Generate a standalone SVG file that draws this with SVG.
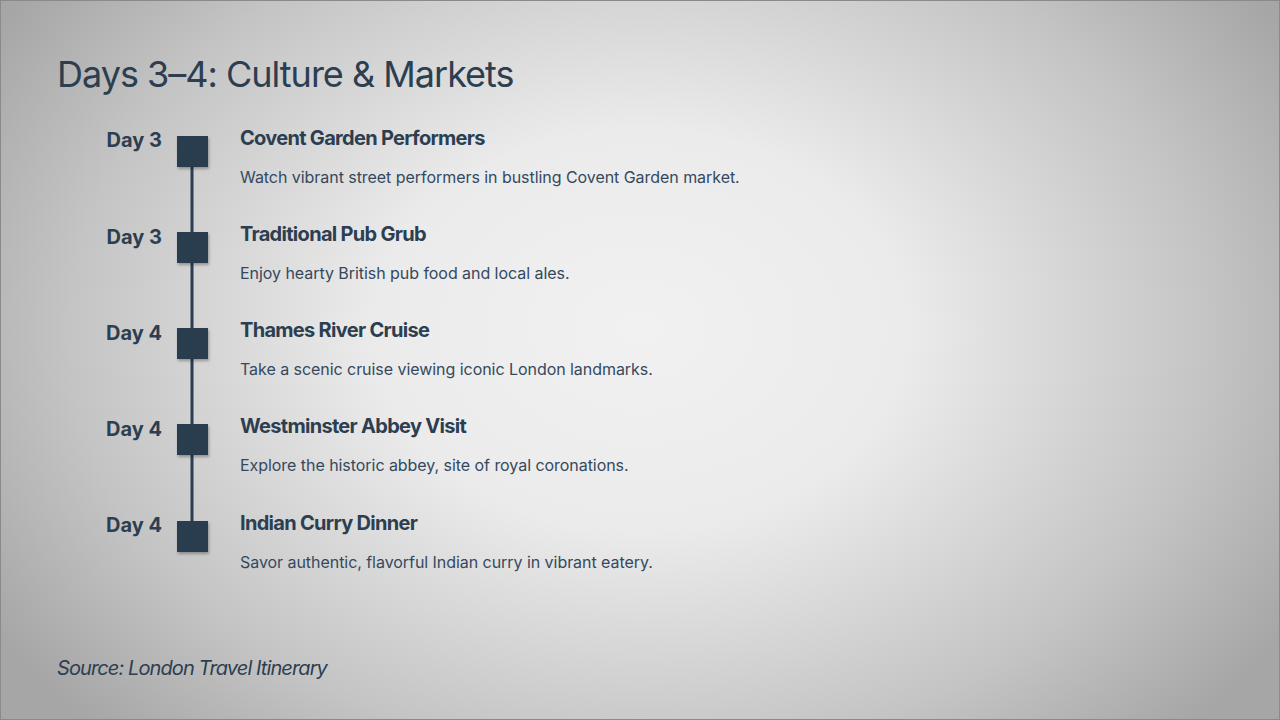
<svg xmlns="http://www.w3.org/2000/svg" width="1280" height="720" viewBox="0 0 1280 720">
<defs>
<radialGradient id="bg" cx="640" cy="330" r="760" gradientUnits="userSpaceOnUse" gradientTransform="translate(640 330) scale(1 0.75) translate(-640 -330)">
<stop offset="0" stop-color="#f1f1f1"/>
<stop offset="0.35" stop-color="#ebebeb"/>
<stop offset="0.75" stop-color="#c4c4c4"/>
<stop offset="1" stop-color="#a6a6a6"/>
</radialGradient>
<filter id="sh" x="-30%" y="-30%" width="160%" height="160%">
<feDropShadow dx="1" dy="2" stdDeviation="1.5" flood-color="#000" flood-opacity="0.3"/>
</filter>
<style>
.t{font-family:Inter,"Noto Sans",sans-serif;fill:#2c3e50}
.title{font-size:36px;font-weight:400;letter-spacing:-1px}
.day{font-size:20px;font-weight:700;text-anchor:end;letter-spacing:0px}
.h{font-size:20px;font-weight:700;letter-spacing:-0.7px}
.d{font-size:16px;font-weight:400;letter-spacing:-0.05px;fill:#34495e}
.src{font-size:20px;font-style:italic;letter-spacing:-0.9px}
.sq{fill:#2c3e50;filter:url(#sh)}
</style>
</defs>
<rect width="1280" height="720" fill="url(#bg)"/>
<rect x="0.5" y="0.5" width="1279" height="719" fill="none" stroke="#8a8a8a" stroke-width="1"/>
<text class="t title" x="57" y="87">Days 3–4: Culture &amp; Markets</text>
<g id="connectors">
<line x1="192" y1="151" x2="192" y2="536" stroke="#2c3e50" stroke-width="3"/>
</g>
<g id="item1">
<text class="t day" x="162" y="147">Day 3</text>
<rect class="sq" x="177" y="136" width="31" height="31"/>
<text class="t h" x="240" y="145">Covent Garden Performers</text>
<text class="t d" x="240" y="183">Watch vibrant street performers in bustling Covent Garden market.</text>
</g>
<g id="item2">
<text class="t day" x="162" y="244">Day 3</text>
<rect class="sq" x="177" y="232" width="31" height="31"/>
<text class="t h" x="240" y="241">Traditional Pub Grub</text>
<text class="t d" x="240" y="279">Enjoy hearty British pub food and local ales.</text>
</g>
<g id="item3">
<text class="t day" x="162" y="340">Day 4</text>
<rect class="sq" x="177" y="328" width="31" height="31"/>
<text class="t h" x="240" y="337">Thames River Cruise</text>
<text class="t d" x="240" y="375">Take a scenic cruise viewing iconic London landmarks.</text>
</g>
<g id="item4">
<text class="t day" x="162" y="436">Day 4</text>
<rect class="sq" x="177" y="424" width="31" height="31"/>
<text class="t h" x="240" y="433">Westminster Abbey Visit</text>
<text class="t d" x="240" y="471">Explore the historic abbey, site of royal coronations.</text>
</g>
<g id="item5">
<text class="t day" x="162" y="532">Day 4</text>
<rect class="sq" x="177" y="521" width="31" height="31"/>
<text class="t h" x="240" y="530">Indian Curry Dinner</text>
<text class="t d" x="240" y="568">Savor authentic, flavorful Indian curry in vibrant eatery.</text>
</g>
<text class="t src" x="57" y="675">Source: London Travel Itinerary</text>
</svg>
